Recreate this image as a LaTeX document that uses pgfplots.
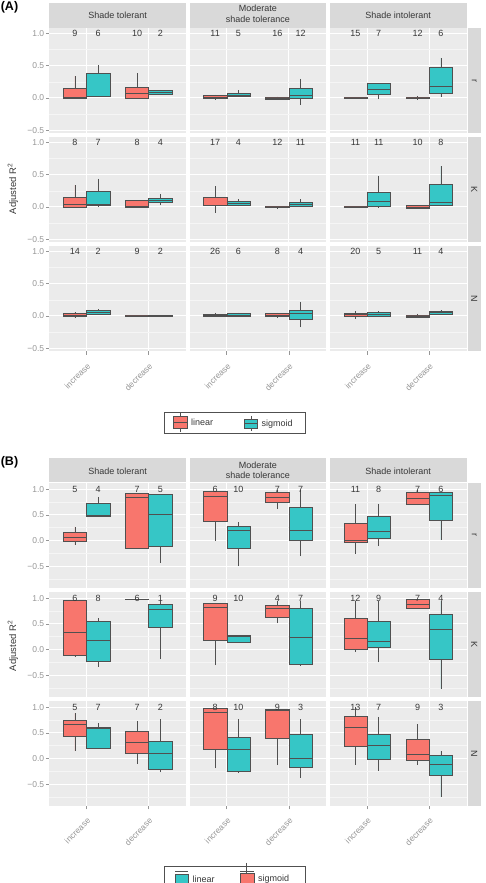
\documentclass[border=0pt]{standalone}
\usepackage{fontspec}
\setmainfont{Liberation Sans}
\usepackage{pgfplots}
\pgfplotsset{compat=1.18}
\usepgfplotslibrary{statistics}
\definecolor{panelbg}{RGB}{235,235,235}
\definecolor{gridminor}{RGB}{245,245,245}
\definecolor{stripbg}{RGB}{217,217,217}
\definecolor{tickgrey}{RGB}{150,150,150}
\definecolor{textdark}{RGB}{55,55,55}
\definecolor{linred}{RGB}{248,118,109}
\definecolor{sigteal}{RGB}{54,198,198}
\definecolor{boxline}{RGB}{80,80,80}
\newcommand{\ticksize}{\fontsize{8.5}{10}\selectfont}
\tikzset{cntn/.style={font=\fontsize{9}{10}\selectfont, text=textdark, inner sep=0pt},
  strip/.style={font=\fontsize{9}{10}\selectfont, text=textdark, inner sep=0pt}}
\newcommand{\bx}[7]{\addplot+[boxplot/draw direction=y, boxplot prepared={draw position=#1,lower whisker=#2,lower quartile=#3,median=#4,upper quartile=#5,upper whisker=#6,box extend=0.375,whisker extend=0}, mark=none, solid, draw=boxline, fill=#7, line width=0.55pt] coordinates {};}
\newcommand{\Li}[5]{\bx{0.8125}{#1}{#2}{#3}{#4}{#5}{linred}}
\newcommand{\Si}[5]{\bx{1.1875}{#1}{#2}{#3}{#4}{#5}{sigteal}}
\newcommand{\Ld}[5]{\bx{1.8125}{#1}{#2}{#3}{#4}{#5}{linred}}
\newcommand{\Sd}[5]{\bx{2.1875}{#1}{#2}{#3}{#4}{#5}{sigteal}}
\newcommand{\cnt}[4]{%
\node[cntn] at (axis cs:0.8125,1) {#1};%
\node[cntn] at (axis cs:1.1875,1) {#2};%
\node[cntn] at (axis cs:1.8125,1) {#3};%
\node[cntn] at (axis cs:2.1875,1) {#4};}
\pgfplotsset{
  fac/.style={scale only axis, width=136.7pt, height=105pt, xmin=0.4, xmax=2.6,
    xtick={1,2}, ytick={-0.5,0,0.5,1}, anchor=north west,
    axis background/.style={fill=panelbg}, axis line style={draw=none},
    grid=both, major grid style={draw=white, line width=1pt},
    minor grid style={draw=gridminor, line width=0.5pt},
    tick align=outside, major tick length=3.5pt, minor tick length=0pt,
    tick style={draw=tickgrey, line width=0.6pt},
    xtick pos=bottom, ytick pos=left,
    /pgf/number format/assume math mode=true,
    ticklabel style={font=\ticksize, text=tickgrey},
    yticklabels={−0.5,0.0,0.5,1.0}, xticklabels={increase,decrease},
    xticklabel style={rotate=45, anchor=north east, inner sep=1pt},
    xticklabel shift=6pt,
    yticklabel style={inner sep=1.5pt}},
  facA/.style={fac, ymin=-0.546, ymax=1.077, minor ytick={-0.25,0.25,0.75}},
  facB/.style={fac, ymin=-0.923, ymax=1.12, minor ytick={-0.75,-0.25,0.25,0.75}},
  noy/.style={yticklabels={}, ytick style={draw=none}},
  nox/.style={xticklabels={}, xtick style={draw=none}},
}
\begin{document}
\begin{tikzpicture}
\useasboundingbox (0pt,0pt) rectangle (486pt,883pt);
% ===== panel labels
\node[font=\bfseries\fontsize{12.5}{14}\selectfont] at (9.5pt,875.5pt) {(A)};
\node[font=\bfseries\fontsize{12.5}{14}\selectfont] at (9.5pt,420.5pt) {(B)};
% ===== strips A
\fill[stripbg] (49.3pt,880.3pt) rectangle (186pt,855.2pt);
\fill[stripbg] (189.5pt,880.3pt) rectangle (326.2pt,855.2pt);
\fill[stripbg] (329.8pt,880.3pt) rectangle (466.5pt,855.2pt);
\node[strip] at (117.6pt,868pt) {Shade tolerant};
\node[strip] at (257.8pt,874.3pt) {Moderate};
\node[strip] at (257.8pt,863.7pt) {shade tolerance};
\node[strip] at (398.1pt,868pt) {Shade intolerant};
\fill[stripbg] (467.7pt,854.7pt) rectangle (480.7pt,749.7pt);
\fill[stripbg] (467.7pt,745.7pt) rectangle (480.7pt,640.7pt);
\fill[stripbg] (467.7pt,636.7pt) rectangle (480.7pt,531.7pt);
\node[strip,rotate=-90] at (474.2pt,802.2pt) {r};
\node[strip,rotate=-90] at (474.2pt,693.2pt) {K};
\node[strip,rotate=-90] at (474.2pt,584.2pt) {N};
% ===== strips B
\fill[stripbg] (49.3pt,424.7pt) rectangle (186pt,400.5pt);
\fill[stripbg] (189.5pt,424.7pt) rectangle (326.2pt,400.5pt);
\fill[stripbg] (329.8pt,424.7pt) rectangle (466.5pt,400.5pt);
\node[strip] at (117.6pt,411.3pt) {Shade tolerant};
\node[strip] at (257.8pt,418pt) {Moderate};
\node[strip] at (257.8pt,407.3pt) {shade tolerance};
\node[strip] at (398.1pt,411.3pt) {Shade intolerant};
\fill[stripbg] (467.7pt,400pt) rectangle (480.7pt,295pt);
\fill[stripbg] (467.7pt,291pt) rectangle (480.7pt,186pt);
\fill[stripbg] (467.7pt,182pt) rectangle (480.7pt,77pt);
\node[strip,rotate=-90] at (474.2pt,347.5pt) {r};
\node[strip,rotate=-90] at (474.2pt,238.5pt) {K};
\node[strip,rotate=-90] at (474.2pt,129.5pt) {N};
% ===== y labels
\node[strip,rotate=90,font=\fontsize{9.5}{11}\selectfont] at (13pt,694pt) {Adjusted R\textsuperscript{2}};
\node[strip,rotate=90,font=\fontsize{9.5}{11}\selectfont] at (13pt,237pt) {Adjusted R\textsuperscript{2}};

% ================= PANEL A =================
% row r
\begin{axis}[facA, at={(49.3pt,854.7pt)}, nox]
\Li{-0.01}{0.0}{0.01}{0.154}{0.34}
\Si{0.02}{0.025}{0.03}{0.38}{0.51}
\Ld{-0.01}{0.0}{0.077}{0.17}{0.38}
\Sd{0.05}{0.06}{0.09}{0.12}{0.125}
\cnt{9}{6}{10}{2}
\end{axis}
\begin{axis}[facA, at={(189.5pt,854.7pt)}, nox, noy]
\Li{-0.02}{-0.01}{0.01}{0.045}{0.05}
\Si{0.02}{0.02}{0.045}{0.077}{0.12}
\Ld{-0.02}{-0.015}{0.0}{0.015}{0.02}
\Sd{-0.11}{0.0}{0.035}{0.148}{0.30}
\cnt{11}{5}{16}{12}
\end{axis}
\begin{axis}[facA, at={(329.8pt,854.7pt)}, nox, noy]
\Li{-0.01}{-0.005}{0.0}{0.01}{0.01}
\Si{-0.02}{0.05}{0.138}{0.225}{0.225}
\Ld{-0.015}{-0.01}{0.0}{0.015}{0.03}
\Sd{0.01}{0.077}{0.185}{0.48}{0.62}
\cnt{15}{7}{12}{6}
\end{axis}
% row K
\begin{axis}[facA, at={(49.3pt,745.7pt)}, nox]
\Li{-0.01}{0.0}{0.036}{0.143}{0.34}
\Si{0.005}{0.03}{0.035}{0.25}{0.44}
\Ld{-0.01}{0.0}{0.005}{0.097}{0.097}
\Sd{0.025}{0.077}{0.107}{0.133}{0.2}
\cnt{8}{7}{8}{4}
\end{axis}
\begin{axis}[facA, at={(189.5pt,745.7pt)}, nox, noy]
\Li{-0.087}{0.025}{0.03}{0.153}{0.32}
\Si{0.01}{0.025}{0.06}{0.087}{0.12}
\Ld{-0.015}{-0.01}{0.0}{0.01}{0.01}
\Sd{0.01}{0.01}{0.036}{0.077}{0.12}
\cnt{17}{4}{12}{11}
\end{axis}
\begin{axis}[facA, at={(329.8pt,745.7pt)}, nox, noy]
\Li{-0.005}{-0.005}{0.0}{0.005}{0.005}
\Si{-0.01}{0.015}{0.087}{0.224}{0.485}
\Ld{-0.025}{-0.025}{0.0}{0.02}{0.02}
\Sd{0.02}{0.02}{0.07}{0.347}{0.63}
\cnt{11}{11}{10}{8}
\end{axis}
% row N
\begin{axis}[facA, at={(49.3pt,636.7pt)}]
\Li{-0.036}{-0.005}{0.015}{0.036}{0.06}
\Si{0.02}{0.02}{0.06}{0.082}{0.1}
\Ld{-0.005}{-0.005}{0.0}{0.005}{0.005}
\Sd{0.0}{0.0}{0.005}{0.01}{0.01}
\cnt{14}{2}{9}{2}
\end{axis}
\begin{axis}[facA, at={(189.5pt,636.7pt)}, noy]
\Li{-0.01}{-0.005}{0.01}{0.025}{0.05}
\Si{-0.005}{-0.005}{0.015}{0.036}{0.05}
\Ld{-0.02}{-0.01}{0.015}{0.04}{0.05}
\Sd{-0.175}{-0.05}{0.046}{0.088}{0.22}
\cnt{26}{6}{8}{4}
\end{axis}
\begin{axis}[facA, at={(329.8pt,636.7pt)}, noy]
\Li{-0.04}{-0.005}{0.02}{0.046}{0.07}
\Si{0.0}{0.0}{0.03}{0.057}{0.07}
\Ld{-0.02}{-0.015}{0.0}{0.01}{0.036}
\Sd{0.02}{0.025}{0.05}{0.072}{0.09}
\cnt{20}{5}{11}{4}
\end{axis}
% legend A
\draw[boxline, line width=0.6pt] (164.3pt,470.7pt) rectangle (305pt,449.7pt);
\draw[boxline, line width=0.5pt] (180.5pt,470pt) -- (180.5pt,451pt);
\filldraw[fill=linred, draw=boxline, line width=0.5pt] (173.5pt,466.3pt) rectangle (187.5pt,454.7pt);
\draw[boxline, line width=0.5pt] (173.5pt,460.5pt) -- (187.5pt,460.5pt);
\node[strip, anchor=west] at (191pt,460.3pt) {linear};
\draw[boxline, line width=0.5pt] (250.8pt,467pt) -- (250.8pt,452pt);
\filldraw[fill=sigteal, draw=boxline, line width=0.5pt] (244.3pt,464pt) rectangle (257.3pt,454.7pt);
\draw[boxline, line width=0.5pt] (244.3pt,459.3pt) -- (257.3pt,459.3pt);
\node[strip, anchor=west] at (261.5pt,459pt) {sigmoid};

% ================= PANEL B =================
% row r
\begin{axis}[facB, at={(49.3pt,400pt)}, nox]
\Li{-0.085}{-0.02}{0.065}{0.16}{0.27}
\Si{0.47}{0.47}{0.49}{0.72}{0.85}
\Ld{-0.15}{-0.15}{0.84}{0.92}{0.93}
\Sd{-0.43}{-0.12}{0.51}{0.90}{0.90}
\cnt{5}{4}{7}{5}
\end{axis}
\begin{axis}[facB, at={(189.5pt,400pt)}, nox, noy]
\Li{0.0}{0.38}{0.86}{0.96}{0.97}
\Si{-0.5}{-0.155}{0.2}{0.27}{0.36}
\Ld{0.61}{0.75}{0.84}{0.93}{0.98}
\Sd{-0.31}{0.0}{0.2}{0.64}{0.98}
\cnt{6}{10}{7}{7}
\end{axis}
\begin{axis}[facB, at={(329.8pt,400pt)}, nox, noy]
\Li{-0.26}{-0.04}{0.0}{0.33}{0.71}
\Si{-0.11}{0.04}{0.175}{0.47}{0.72}
\Ld{0.69}{0.71}{0.82}{0.93}{0.99}
\Sd{0.01}{0.40}{0.88}{0.935}{0.94}
\cnt{11}{8}{7}{6}
\end{axis}
% row K
\begin{axis}[facB, at={(49.3pt,291pt)}, nox]
\Li{-0.14}{-0.11}{0.33}{0.96}{0.96}
\Si{-0.33}{-0.23}{0.19}{0.55}{0.61}
\Ld{0.975}{0.975}{0.98}{0.985}{0.985}
\Sd{-0.19}{0.44}{0.78}{0.89}{0.94}
\cnt{6}{8}{6}{1}
\end{axis}
\begin{axis}[facB, at={(189.5pt,291pt)}, nox, noy]
\Li{-0.31}{0.18}{0.83}{0.91}{0.91}
\Si{0.15}{0.15}{0.26}{0.28}{0.28}
\Ld{0.51}{0.62}{0.80}{0.87}{0.94}
\Sd{-0.31}{-0.295}{0.24}{0.81}{0.94}
\cnt{9}{10}{4}{7}
\end{axis}
\begin{axis}[facB, at={(329.8pt,291pt)}, nox, noy]
\Li{-0.05}{0.0}{0.21}{0.615}{0.94}
\Si{-0.25}{0.04}{0.16}{0.56}{0.94}
\Ld{0.81}{0.81}{0.89}{0.97}{0.97}
\Sd{-0.76}{-0.19}{0.40}{0.68}{0.94}
\cnt{12}{9}{7}{4}
\end{axis}
% row N
\begin{axis}[facB, at={(49.3pt,182pt)}]
\Li{0.15}{0.44}{0.67}{0.75}{0.88}
\Si{0.2}{0.205}{0.59}{0.6}{0.69}
\Ld{-0.11}{0.10}{0.31}{0.53}{0.73}
\Sd{-0.27}{-0.21}{0.11}{0.33}{0.76}
\cnt{5}{7}{7}{2}
\end{axis}
\begin{axis}[facB, at={(189.5pt,182pt)}, noy]
\Li{-0.19}{0.19}{0.91}{0.97}{0.97}
\Si{-0.28}{-0.24}{0.18}{0.42}{0.76}
\Ld{-0.13}{0.39}{0.94}{0.955}{0.96}
\Sd{-0.37}{-0.17}{0.0}{0.47}{0.76}
\cnt{8}{10}{9}{3}
\end{axis}
\begin{axis}[facB, at={(329.8pt,182pt)}, noy]
\Li{-0.12}{0.24}{0.60}{0.83}{1.0}
\Si{-0.24}{-0.01}{0.26}{0.47}{0.81}
\Ld{-0.12}{-0.03}{0.09}{0.38}{0.67}
\Sd{-0.75}{-0.32}{-0.12}{0.058}{0.15}
\cnt{13}{7}{9}{3}
\end{axis}
% legend B (cut at bottom)
\draw[boxline, line width=0.6pt] (164.3pt,-2pt) -- (164.3pt,16.3pt) -- (305pt,16.3pt) -- (305pt,-2pt);
\filldraw[fill=sigteal, draw=boxline, line width=0.5pt] (175pt,9pt) rectangle (188pt,-6pt);
\draw[boxline, line width=0.5pt] (175pt,11.3pt) -- (188pt,11.3pt);
\node[strip, anchor=west] at (192.5pt,4pt) {linear};
\draw[boxline, line width=0.5pt] (246.7pt,20pt) -- (246.7pt,9.7pt);
\filldraw[fill=linred, draw=boxline, line width=0.5pt] (240pt,9.7pt) rectangle (254pt,-6pt);
\draw[boxline, line width=0.5pt] (240pt,11.3pt) -- (254pt,11.3pt);
\node[strip, anchor=west] at (258pt,3.5pt) {sigmoid};
\end{tikzpicture}
\end{document}
